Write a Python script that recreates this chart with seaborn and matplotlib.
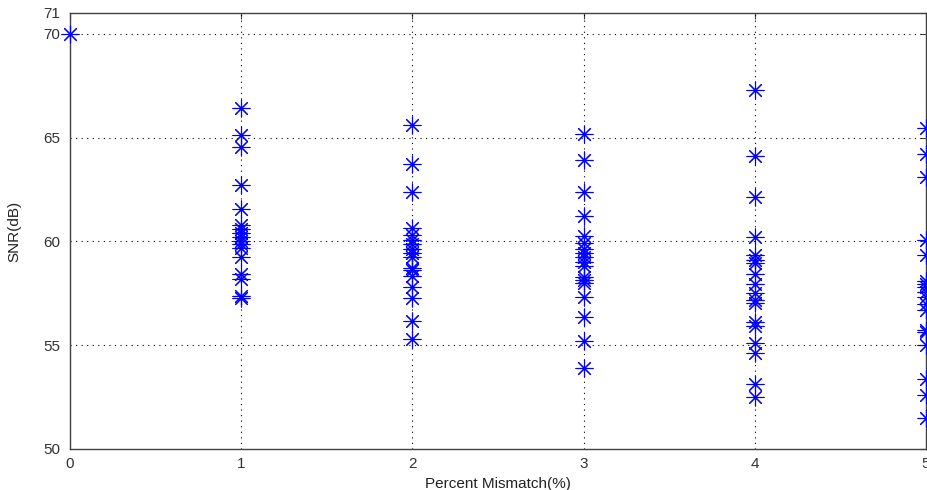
import numpy as np
import pandas as pd
import matplotlib
matplotlib.use("Agg")
import matplotlib.pyplot as plt
import seaborn as sns

# Data
mismatch_0 = [70.0]
mismatch_1 = [66.4, 65.1, 64.55, 62.7, 61.55, 60.8, 60.6, 60.4, 60.2, 60.0, 59.85,
              59.7, 59.25, 58.45, 58.2, 57.35, 57.25]
mismatch_2 = [65.6, 63.75, 62.4, 60.65, 60.3, 60.05, 59.85, 59.65, 59.45, 59.25, 58.7,
              58.6, 58.35, 57.8, 57.25, 56.15, 55.3]
mismatch_3 = [65.15, 63.9, 62.4, 61.2, 60.25, 59.9, 59.65, 59.45, 59.25, 59.0, 58.8,
              58.3, 58.15, 58.0, 57.3, 56.35, 55.2, 53.9]
mismatch_4 = [67.3, 64.1, 62.15, 60.2, 59.35, 59.1, 58.95, 58.45, 57.95, 57.5, 57.2,
              57.05, 56.1, 55.9, 55.1, 54.6, 53.15, 52.5]
mismatch_5 = [65.45, 64.2, 63.1, 60.05, 59.35, 58.1, 57.95, 57.8, 57.55, 57.3, 57.0,
              56.7, 55.75, 55.65, 55.0, 53.35, 52.6, 51.5]

x_ticks = [0, 1, 2, 3, 4, 5]
y_ticks = [50, 55, 60, 65, 70, 71]

groups = [mismatch_0, mismatch_1, mismatch_2, mismatch_3, mismatch_4, mismatch_5]
rows = []
for pm, vals in zip(x_ticks, groups):
    for v in vals:
        rows.append({"mismatch": pm, "snr": v})
df = pd.DataFrame(rows)

sns.set_style("white")
plt.rcParams["font.family"] = ["Liberation Sans", "DejaVu Sans"]

fig = plt.figure(figsize=(9.27, 4.90), dpi=100)
ax = fig.add_axes([0.0755, 0.0837, 0.9235, 0.8898])

sns.scatterplot(data=df, x="mismatch", y="snr", ax=ax,
                marker=(8, 2, 0), s=150, color="#0000ff",
                edgecolor="#0000ff", linewidth=0.8, clip_on=False, zorder=3,
                legend=False)

ax.set_xlim(0, 5)
ax.set_ylim(50, 71)
ax.set_xticks(x_ticks)
ax.set_yticks(y_ticks)
ax.set_xticklabels([str(t) for t in x_ticks])
ax.set_yticklabels([str(t) for t in y_ticks])

for v in [55, 60, 65, 70]:
    ax.axhline(v, color="black", linestyle=(0, (1, 4)), linewidth=0.8, zorder=1)
for v in [1, 2, 3, 4]:
    ax.axvline(v, color="black", linestyle=(0, (1, 4)), linewidth=0.8, zorder=1)

ax.tick_params(direction="in", length=4, width=0.8, colors="#404040",
               labelsize=11, labelcolor="#333333", top=True, right=True)
ax.tick_params(axis="y", pad=7)
ax.tick_params(axis="x", pad=6)
for sp in ax.spines.values():
    sp.set_color("#404040")
    sp.set_linewidth(1.0)
    sp.set_visible(True)

ax.set_xlabel("Percent Mismatch(%)", fontsize=11, color="#222222", labelpad=4)
ax.set_ylabel("SNR(dB)", fontsize=11, color="#222222", labelpad=16)

fig.savefig("out.png", dpi=100)
